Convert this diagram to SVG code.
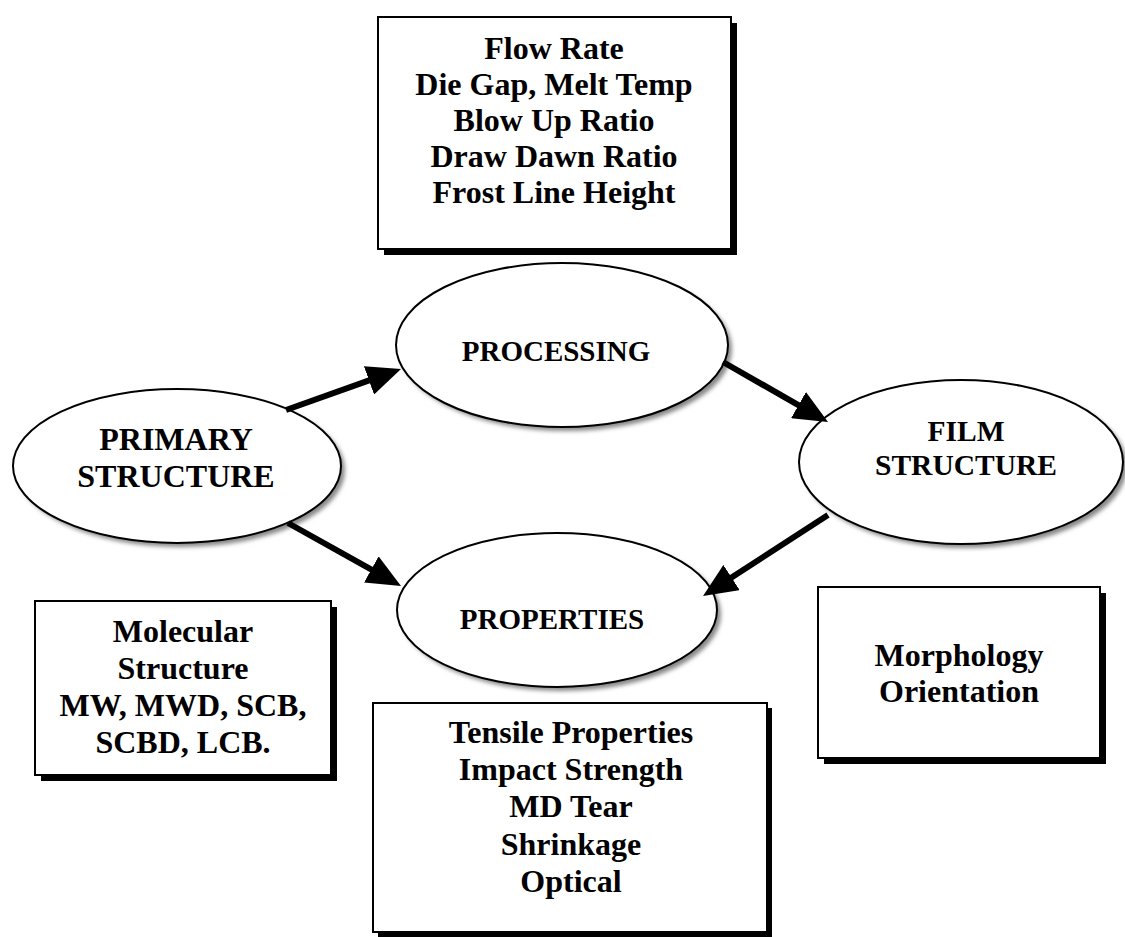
<svg xmlns="http://www.w3.org/2000/svg" width="1125" height="937" viewBox="0 0 1125 937">
<style>
.t{font-family:"Liberation Serif","Times New Roman",serif;font-weight:bold;fill:#000;text-anchor:middle}
.box{fill:#fff;stroke:#000;stroke-width:2}
.sh{fill:#000}
.ell{fill:#fff;stroke:#000;stroke-width:2}
.esh{fill:#888;filter:url(#blur)}
.con{stroke:#000;stroke-width:6;fill:none;marker-end:url(#ah)}
</style>
<defs>
<filter id="blur" x="-10%" y="-10%" width="120%" height="120%"><feGaussianBlur stdDeviation="2"/></filter>
<marker id="ah" markerUnits="userSpaceOnUse" markerWidth="34" markerHeight="30" refX="12" refY="15" orient="auto"><path d="M0,0 L34,15 L0,30 Z" fill="#000"/></marker>
</defs>
<rect width="1125" height="937" fill="#fff"/>

<g id="process-params">
<rect class="sh" x="384" y="23" width="353" height="232"/>
<rect class="box" x="378" y="17" width="353" height="232"/>
<text class="t" font-size="32" x="554" y="59">Flow Rate</text>
<text class="t" font-size="32" x="554" y="95">Die Gap, Melt Temp</text>
<text class="t" font-size="32" x="554" y="131">Blow Up Ratio</text>
<text class="t" font-size="32" x="554" y="167">Draw Dawn Ratio</text>
<text class="t" font-size="32" x="554" y="203">Frost Line Height</text>
</g>

<g id="primary-structure">
<ellipse class="esh" cx="181" cy="470" rx="164" ry="77"/>
<ellipse class="ell" cx="177" cy="466" rx="164" ry="77"/>
<text class="t" font-size="32" x="176" y="450">PRIMARY</text>
<text class="t" font-size="32" x="176" y="487">STRUCTURE</text>
</g>

<g id="processing">
<ellipse class="esh" cx="566" cy="349" rx="166" ry="82"/>
<ellipse class="ell" cx="562" cy="345" rx="166" ry="82"/>
<text class="t" font-size="29" x="556" y="361">PROCESSING</text>
</g>

<g id="film-structure">
<ellipse class="esh" cx="965" cy="466" rx="162" ry="82"/>
<ellipse class="ell" cx="961" cy="462" rx="162" ry="82"/>
<text class="t" font-size="29.5" x="966" y="441">FILM</text>
<text class="t" font-size="29.5" x="966" y="475">STRUCTURE</text>
</g>

<g id="properties">
<ellipse class="esh" cx="561" cy="614" rx="160" ry="77"/>
<ellipse class="ell" cx="557" cy="610" rx="160" ry="77"/>
<text class="t" font-size="29" x="552" y="629">PROPERTIES</text>
</g>

<g id="molecular">
<rect class="sh" x="41" y="607" width="296" height="174"/>
<rect class="box" x="35" y="601" width="296" height="174"/>
<text class="t" font-size="32" x="183" y="642">Molecular</text>
<text class="t" font-size="32" x="183" y="679">Structure</text>
<text class="t" font-size="32" x="183" y="716">MW, MWD, SCB,</text>
<text class="t" font-size="32" x="183" y="753">SCBD, LCB.</text>
</g>

<g id="morphology">
<rect class="sh" x="824" y="593" width="282" height="171"/>
<rect class="box" x="818" y="587" width="282" height="171"/>
<text class="t" font-size="32" x="959" y="666">Morphology</text>
<text class="t" font-size="32" x="959" y="702">Orientation</text>
</g>

<g id="film-properties">
<rect class="sh" x="378" y="708" width="394" height="229"/>
<rect class="box" x="373" y="703" width="394" height="229"/>
<text class="t" font-size="32" x="571" y="743">Tensile Properties</text>
<text class="t" font-size="32" x="571" y="780">Impact Strength</text>
<text class="t" font-size="32" x="571" y="817">MD Tear</text>
<text class="t" font-size="32" x="571" y="855">Shrinkage</text>
<text class="t" font-size="32" x="571" y="892">Optical</text>
</g>

<g id="connectors">
<line class="con" x1="286" y1="410" x2="380.3" y2="376.4"/>
<line class="con" x1="288" y1="523" x2="381.8" y2="575.3"/>
<line class="con" x1="723" y1="362" x2="808.9" y2="411.1"/>
<line class="con" x1="828" y1="515" x2="721.5" y2="584.0"/>
</g>
</svg>
